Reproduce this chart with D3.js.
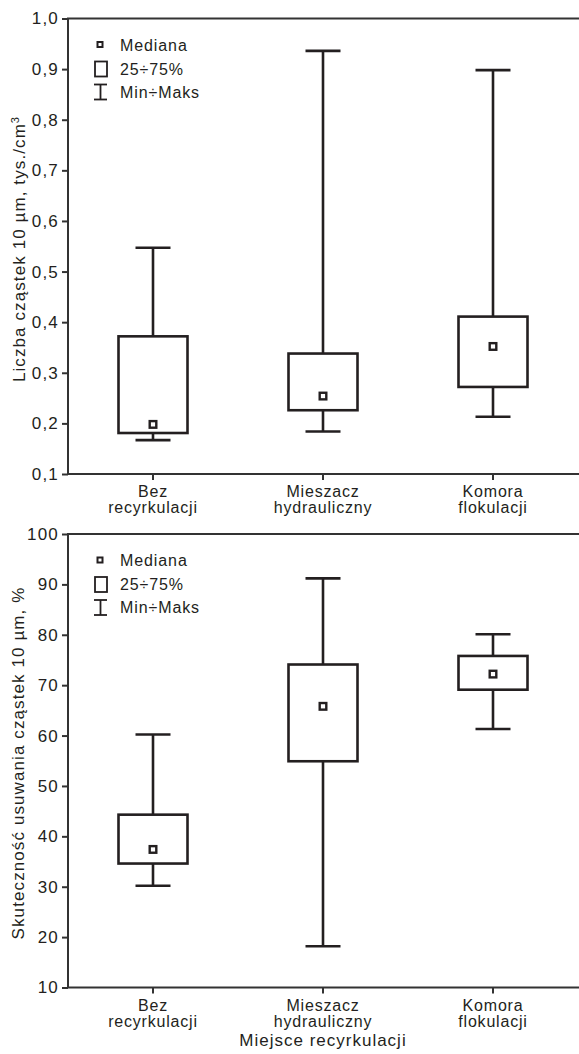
<!DOCTYPE html>
<html>
<head>
<meta charset="utf-8">
<script src="https://cdn.jsdelivr.net/npm/d3@7"></script>
<style>
  body { margin: 0; background: #fff; }
  svg { display: block; font-family: "Liberation Sans", Arial, sans-serif; }
  text { fill: #231f20; }
</style>
</head>
<body>
<div id="chart"></div>
<script>
// categories (two-line labels)
var categories = ["Bez recyrkulacji", "Mieszacz hydrauliczny", "Komora flokulacji"];
var categoryLines = [["Bez", "recyrkulacji"], ["Mieszacz", "hydrauliczny"], ["Komora", "flokulacji"]];

// top panel: particle count 10 µm, tys./cm3
var countMin    = [0.167, 0.184, 0.213];
var countQ1     = [0.181, 0.226, 0.272];
var countMedian = [0.198, 0.254, 0.352];
var countQ3     = [0.372, 0.338, 0.411];
var countMax    = [0.547, 0.936, 0.898];
var countTicks  = [0.1, 0.2, 0.3, 0.4, 0.5, 0.6, 0.7, 0.8, 0.9, 1.0];

// bottom panel: removal efficiency, %
var effMin    = [30.2, 18.2, 61.3];
var effQ1     = [34.6, 54.9, 69.1];
var effMedian = [37.4, 65.8, 72.2];
var effQ3     = [44.3, 74.1, 75.8];
var effMax    = [60.2, 91.2, 80.1];
var effTicks  = [10, 20, 30, 40, 50, 60, 70, 80, 90, 100];

var legendLabels = ["Mediana", "25÷75%", "Min÷Maks"];

var ink = "#231f20";
var svgWidth = 579, svgHeight = 1054;

var svg = d3.select("#chart").append("svg")
  .attr("width", svgWidth)
  .attr("height", svgHeight);

var xScale = d3.scaleBand()
  .domain(categories)
  .range([68, 578])
  .padding(0);

var boxW = 69, capW = 35;

function drawPanel(opt) {
  var y = d3.scaleLinear().domain(opt.domain).range([opt.bottom, opt.top]);
  var g = svg.append("g");

  // frame (right side runs off the picture)
  g.append("rect")
    .attr("x", 68).attr("y", opt.top)
    .attr("width", 520).attr("height", opt.bottom - opt.top)
    .attr("fill", "none").attr("stroke", "#333").attr("stroke-width", 2);

  var yAxis = d3.axisLeft(y).tickValues(opt.ticks).tickSize(6).tickPadding(3)
    .tickFormat(opt.format);
  var ya = g.append("g").attr("transform", "translate(68,0)").call(yAxis);
  ya.select(".domain").remove();
  ya.selectAll("line").attr("stroke", "#333").attr("stroke-width", 2);
  ya.selectAll("text").style("font-size", "17px").style("letter-spacing", "1.2px").attr("fill", ink);

  var xAxis = d3.axisBottom(xScale).tickSize(6).tickFormat("");
  var xa = g.append("g").attr("transform", "translate(0," + opt.bottom + ")").call(xAxis);
  xa.select(".domain").remove();
  xa.selectAll("line").attr("stroke", "#333").attr("stroke-width", 2);

  categoryLines.forEach(function(lines, i) {
    var cx = xScale(categories[i]) + xScale.bandwidth() / 2;
    var t = g.append("text")
      .attr("x", cx)
      .attr("y", opt.bottom + 23)
      .attr("text-anchor", "middle")
      .style("font-size", "16px")
      .style("letter-spacing", "0.8px");
    lines.forEach(function(l, j) {
      t.append("tspan")
        .attr("x", cx)
        .attr("dy", j === 0 ? 0 : 16)
        .text(l);
    });
  });

  // boxes
  var rows = categories.map(function(c, i) {
    return { c: c, min: opt.min[i], q1: opt.q1[i], med: opt.med[i], q3: opt.q3[i], max: opt.max[i] };
  });
  var box = g.selectAll(".box").data(rows).enter().append("g")
    .attr("transform", function(d) { return "translate(" + (xScale(d.c) + xScale.bandwidth() / 2) + ",0)"; });

  box.append("line")
    .attr("x1", 0).attr("x2", 0)
    .attr("y1", function(d) { return y(d.max); })
    .attr("y2", function(d) { return y(d.q3); })
    .attr("stroke", ink).attr("stroke-width", 2.6);
  box.append("line")
    .attr("x1", 0).attr("x2", 0)
    .attr("y1", function(d) { return y(d.q1); })
    .attr("y2", function(d) { return y(d.min); })
    .attr("stroke", ink).attr("stroke-width", 2.6);
  box.append("line")
    .attr("x1", -capW / 2).attr("x2", capW / 2)
    .attr("y1", function(d) { return y(d.max); })
    .attr("y2", function(d) { return y(d.max); })
    .attr("stroke", ink).attr("stroke-width", 2.6);
  box.append("line")
    .attr("x1", -capW / 2).attr("x2", capW / 2)
    .attr("y1", function(d) { return y(d.min); })
    .attr("y2", function(d) { return y(d.min); })
    .attr("stroke", ink).attr("stroke-width", 2.6);
  box.append("rect")
    .attr("x", -boxW / 2).attr("width", boxW)
    .attr("y", function(d) { return y(d.q3); })
    .attr("height", function(d) { return y(d.q1) - y(d.q3); })
    .attr("fill", "#fff").attr("stroke", ink).attr("stroke-width", 2.6);
  box.append("rect")
    .attr("x", -3.3).attr("width", 6.6)
    .attr("y", function(d) { return y(d.med) - 3.3; })
    .attr("height", 6.6)
    .attr("fill", "#fff").attr("stroke", ink).attr("stroke-width", 2.4);

  // legend
  var lg = g.append("g").attr("transform", "translate(0," + opt.top + ")");
  lg.append("rect").attr("x", 97.5).attr("y", 23.5).attr("width", 5).attr("height", 5)
    .attr("fill", "#fff").attr("stroke", ink).attr("stroke-width", 2);
  lg.append("rect").attr("x", 95).attr("y", 43).attr("width", 12).attr("height", 15)
    .attr("fill", "#fff").attr("stroke", ink).attr("stroke-width", 1.8);
  lg.append("line").attr("x1", 94).attr("x2", 107).attr("y1", 66).attr("y2", 66)
    .attr("stroke", ink).attr("stroke-width", 1.8);
  lg.append("line").attr("x1", 94).attr("x2", 107).attr("y1", 81).attr("y2", 81)
    .attr("stroke", ink).attr("stroke-width", 1.8);
  lg.append("line").attr("x1", 100.5).attr("x2", 100.5).attr("y1", 66).attr("y2", 81)
    .attr("stroke", ink).attr("stroke-width", 1.8);
  legendLabels.forEach(function(l, i) {
    lg.append("text").attr("x", 120).attr("y", [32, 56, 79][i])
      .style("font-size", "16px").style("letter-spacing", "0.9px").text(l);
  });

  // y title
  var yt = g.append("text")
    .attr("transform", "translate(" + opt.titleX + "," + opt.titleY + ") rotate(-90)")
    .attr("text-anchor", "middle")
    .style("font-size", "17px")
    .style("letter-spacing", "1.1px")
    .text(opt.title);
  if (opt.sup) {
    yt.append("tspan").attr("dy", -6).style("font-size", "11px").text(opt.sup);
  }
}

var commaFormat = function(d) { return d3.format(".1f")(d).replace(".", ","); };

drawPanel({
  top: 18.5, bottom: 474, domain: [0.1, 1.0], ticks: countTicks, format: commaFormat,
  min: countMin, q1: countQ1, med: countMedian, q3: countQ3, max: countMax,
  title: "Liczba cząstek 10 µm, tys./cm", sup: "3", titleX: 25, titleY: 249
});

drawPanel({
  top: 534, bottom: 987.5, domain: [10, 100], ticks: effTicks, format: d3.format("d"),
  min: effMin, q1: effQ1, med: effMedian, q3: effQ3, max: effMax,
  title: "Skuteczność usuwania cząstek 10 µm, %", titleX: 24, titleY: 763
});

svg.append("text")
  .attr("x", 323).attr("y", 1046)
  .attr("text-anchor", "middle")
  .style("font-size", "17px")
  .style("letter-spacing", "1px")
  .text("Miejsce recyrkulacji");
</script>
</body>
</html>
